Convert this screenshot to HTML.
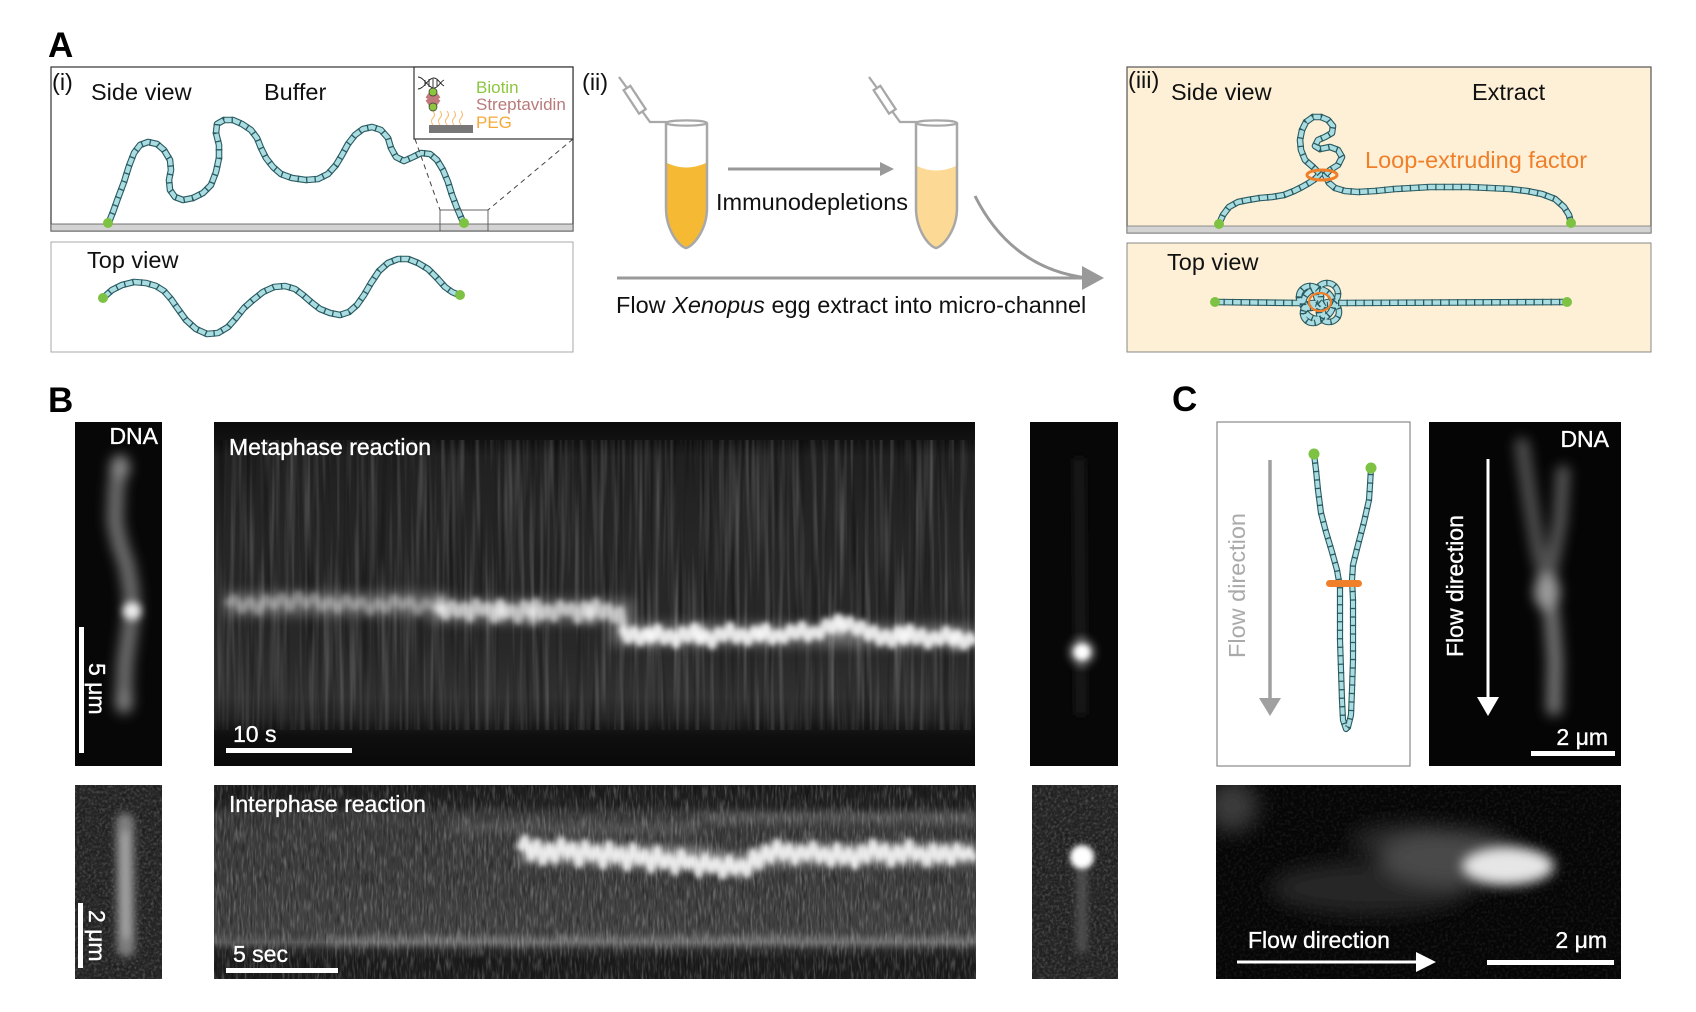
<!DOCTYPE html>
<html><head><meta charset="utf-8">
<style>
html,body{margin:0;padding:0;background:#fff;}
svg{display:block;}
.t{font-family:"Liberation Sans",Arial,sans-serif;font-size:23.5px;fill:#111;}
.w{font-family:"Liberation Sans",Arial,sans-serif;font-size:23px;fill:#fff;stroke:#fff;stroke-width:0.35px;}
.lbl{font-family:"Liberation Sans",Arial,sans-serif;font-size:35px;font-weight:bold;fill:#000;}
.hA{fill:none;stroke:#2a5a61;stroke-width:6.6;stroke-linejoin:round;stroke-linecap:round;}
.hB{fill:none;stroke:#a9dde1;stroke-width:4.4;stroke-linejoin:round;stroke-linecap:round;}
.hC{fill:none;stroke:#2a5a61;stroke-width:6.6;stroke-dasharray:1.3 7.2;}
</style></head>
<body>
<svg width="1696" height="1012" viewBox="0 0 1696 1012" xmlns="http://www.w3.org/2000/svg">
<defs>
  <filter id="b1" filterUnits="userSpaceOnUse" x="0" y="0" width="1696" height="1012"><feGaussianBlur stdDeviation="1.8"/></filter>
  <filter id="b2" filterUnits="userSpaceOnUse" x="0" y="0" width="1696" height="1012"><feGaussianBlur stdDeviation="2.6"/></filter>
  <filter id="b4" filterUnits="userSpaceOnUse" x="0" y="0" width="1696" height="1012"><feGaussianBlur stdDeviation="4"/></filter>
  <filter id="b6" filterUnits="userSpaceOnUse" x="0" y="0" width="1696" height="1012"><feGaussianBlur stdDeviation="6"/></filter>
  <filter id="b10" filterUnits="userSpaceOnUse" x="0" y="0" width="1696" height="1012"><feGaussianBlur stdDeviation="10"/></filter>
  <filter id="sW" x="0" y="0" width="1" height="1">
    <feTurbulence type="fractalNoise" baseFrequency="0.2 0.007" numOctaves="2" seed="7"/>
    <feColorMatrix type="matrix" values="0 0 0 0 1  0 0 0 0 1  0 0 0 0 1  1.4 0 0 0 -0.62"/>
  </filter>
  <filter id="sK" x="0" y="0" width="1" height="1">
    <feTurbulence type="fractalNoise" baseFrequency="0.16 0.006" numOctaves="2" seed="11"/>
    <feColorMatrix type="matrix" values="0 0 0 0 0  0 0 0 0 0  0 0 0 0 0  -1.8 0 0 0 0.85"/>
  </filter>
  <filter id="gW" x="0" y="0" width="1" height="1">
    <feTurbulence type="fractalNoise" baseFrequency="0.45 0.07" numOctaves="2" seed="3"/>
    <feColorMatrix type="matrix" values="0 0 0 0 1  0 0 0 0 1  0 0 0 0 1  1.5 0 0 0 -0.68"/>
  </filter>
  <filter id="gK" x="0" y="0" width="1" height="1">
    <feTurbulence type="fractalNoise" baseFrequency="0.45 0.07" numOctaves="2" seed="5"/>
    <feColorMatrix type="matrix" values="0 0 0 0 0  0 0 0 0 0  0 0 0 0 0  -1.6 0 0 0 0.82"/>
  </filter>
  <filter id="iW" x="0" y="0" width="1" height="1">
    <feTurbulence type="fractalNoise" baseFrequency="0.35" numOctaves="2" seed="9"/>
    <feColorMatrix type="matrix" values="0 0 0 0 1  0 0 0 0 1  0 0 0 0 1  1.5 0 0 0 -0.66"/>
  </filter>
  <filter id="iK" x="0" y="0" width="1" height="1">
    <feTurbulence type="fractalNoise" baseFrequency="0.35" numOctaves="2" seed="13"/>
    <feColorMatrix type="matrix" values="0 0 0 0 0  0 0 0 0 0  0 0 0 0 0  -1.6 0 0 0 0.82"/>
  </filter>

  <linearGradient id="gMeta" x1="0" y1="0" x2="0" y2="1">
    <stop offset="0" stop-color="#0a0a0a"/>
    <stop offset="0.06" stop-color="#131313"/>
    <stop offset="0.1" stop-color="#202020"/>
    <stop offset="0.35" stop-color="#262626"/>
    <stop offset="0.65" stop-color="#282828"/>
    <stop offset="0.8" stop-color="#303030"/>
    <stop offset="0.86" stop-color="#242424"/>
    <stop offset="0.91" stop-color="#0f0f0f"/>
    <stop offset="1" stop-color="#090909"/>
  </linearGradient>
  <linearGradient id="gInter" x1="0" y1="0" x2="0" y2="1">
    <stop offset="0" stop-color="#1c1c1c"/>
    <stop offset="0.1" stop-color="#222"/>
    <stop offset="0.15" stop-color="#3a3a3a"/>
    <stop offset="0.5" stop-color="#3c3c3c"/>
    <stop offset="0.76" stop-color="#424242"/>
    <stop offset="0.81" stop-color="#585858"/>
    <stop offset="0.85" stop-color="#2c2c2c"/>
    <stop offset="0.9" stop-color="#1b1b1b"/>
    <stop offset="1" stop-color="#1d1d1d"/>
  </linearGradient>

  <clipPath id="c1"><rect x="75" y="422" width="87" height="344"/></clipPath>
  <clipPath id="c2"><rect x="214" y="422" width="761" height="344"/></clipPath>
  <clipPath id="c3"><rect x="1030" y="422" width="88" height="344"/></clipPath>
  <clipPath id="c4"><rect x="75" y="785" width="87" height="194"/></clipPath>
  <clipPath id="c5"><rect x="214" y="785" width="762" height="194"/></clipPath>
  <clipPath id="c6"><rect x="1032" y="785" width="86" height="194"/></clipPath>
  <clipPath id="c7"><rect x="1429" y="422" width="192" height="344"/></clipPath>
  <clipPath id="c8"><rect x="1216" y="785" width="405" height="194"/></clipPath>

  <path id="dnaSide" d="M109,222 L113,212 L118,198 L124,182 L129,166 L134,153 L140,145 L148,142 L157,144 L164,150 L170,160 L171,170 L169,180 L170,190 L175,197 L183,200 L193,198 L203,193 L211,185 L216,172 L219,158 L219,145 L216,133 L217,124 L224,120 L233,120 L242,124 L251,130 L257,138 L261,148 L266,158 L273,167 L281,174 L292,178 L306,180 L318,179 L328,174 L336,165 L342,155 L348,144 L355,135 L363,129 L372,127 L381,130 L388,138 L391,148 L396,157 L404,161 L413,157 L421,153 L430,154 L437,160 L443,170 L448,182 L452,195 L457,208 L463,222"/>
  <path id="dnaTop" d="M103,298 L112,290 L122,285 L134,282 L146,283 L156,286 L164,291 L171,299 L178,309 L186,320 L196,329 L207,334 L218,333 L228,327 L236,318 L244,308 L253,300 L263,292 L274,287 L285,286 L295,289 L303,295 L311,302 L320,309 L330,313 L340,315 L349,312 L357,305 L364,295 L371,283 L379,271 L388,263 L398,259 L408,259 L418,263 L428,269 L437,278 L445,287 L452,292 L459,295"/>
  <path id="dnaIII" d="M1219,224 L1223,215 L1229,207 L1238,202 L1248,200 L1260,198 L1272,197 L1284,195 L1294,191 L1302,187 L1309,183 L1315,179 L1320,174 L1313,167 L1305,160 L1301,150 L1300,140 L1302,130 L1306,122 L1313,117 L1321,117 L1328,120 L1333,126 L1332,133 L1325,137 L1318,140 L1315,146 L1320,149 L1330,147 L1338,150 L1342,157 L1338,165 L1330,170 L1325,175 L1329,183 L1335,188 L1345,191 L1358,192 L1375,191 L1395,189 L1413,188 L1430,187 L1450,187 L1468,187 L1490,188 L1510,189 L1527,191 L1542,194 L1555,199 L1564,207 L1569,215 L1571,223"/>
  <path id="dnaIIIt" d="M1215,302 L1300,303 M1338,303 L1567,302 M1318,304 m-15,0 a15,15 0 1,0 30,0 a15,15 0 1,0 -30,0 M1299,297 a11,11 0 1,0 22,0 a11,11 0 1,0 -22,0 M1316,294 a11,11 0 1,0 22,0 a11,11 0 1,0 -22,0 M1303,313 a10,10 0 1,0 20,0 a10,10 0 1,0 -20,0 M1319,312 a10,10 0 1,0 20,0 a10,10 0 1,0 -20,0"/>
  <path id="dnaC" d="M1314,454 L1316,470 L1318,490 L1321,513 L1326,532 L1332,552 L1337,570 L1340,587 L1340,610 L1340,640 L1341,670 L1342,700 L1343,720 L1346,729 L1348,727 L1351,715 L1352,690 L1353,660 L1353,630 L1353,600 L1352,580 L1353,565 L1358,545 L1364,522 L1369,500 L1370,485 L1371,468"/>
</defs>

<!-- ================= PANEL A ================= -->
<text class="lbl" x="48" y="57">A</text>

<!-- (i) side view -->
<rect x="51" y="67" width="522" height="164" fill="#fff" stroke="#333" stroke-width="1.2"/>
<rect x="51" y="224" width="522" height="7" fill="#d3d3d3" stroke="#555" stroke-width="0.8"/>
<text class="t" x="52" y="90">(i)</text>
<text class="t" x="91" y="100">Side view</text>
<text class="t" x="264" y="100">Buffer</text>
<use href="#dnaSide" class="hA"/><use href="#dnaSide" class="hB"/><use href="#dnaSide" class="hC"/>
<circle cx="108" cy="223" r="5" fill="#7dc242"/>
<circle cx="464" cy="223" r="5" fill="#7dc242"/>
<rect x="440" y="210" width="48" height="21" fill="none" stroke="#555" stroke-width="0.9"/>
<line x1="415" y1="139" x2="440" y2="210" stroke="#444" stroke-width="1" stroke-dasharray="5 4"/>
<line x1="573" y1="139" x2="488" y2="210" stroke="#444" stroke-width="1" stroke-dasharray="5 4"/>
<!-- inset -->
<rect x="414" y="67" width="159" height="72" fill="#fff" stroke="#333" stroke-width="1.2"/>
<g fill="none" stroke="#222" stroke-width="0.9">
  <path d="M418,77 C424,77 428,88 434,88 C438,88 440,82 444,80"/>
  <path d="M418,89 C424,89 428,78 434,78 C438,78 440,84 444,86"/>
  <line x1="425" y1="80" x2="425" y2="86"/><line x1="429" y1="79" x2="429" y2="87"/><line x1="433" y1="79" x2="433" y2="87"/><line x1="437" y1="80" x2="437" y2="86"/>
</g>
<g stroke="#f7b86a" stroke-width="1" fill="none">
  <path d="M433,125 q-3,-4 0,-7 q3,-3 0,-7"/>
  <path d="M440,125 q-3,-4 0,-7 q3,-3 0,-7"/>
  <path d="M447,125 q-3,-4 0,-7 q3,-3 0,-7"/>
  <path d="M454,125 q-3,-4 0,-7 q3,-3 0,-7"/>
  <path d="M461,125 q-3,-4 0,-7 q3,-3 0,-7"/>
</g>
<g fill="#c07a7c">
  <rect x="426" y="96" width="14" height="6" transform="rotate(35 433 99)"/>
  <rect x="426" y="96" width="14" height="6" transform="rotate(-35 433 99)"/>
</g>
<circle cx="433" cy="92" r="4" fill="#8cc63e" stroke="#333" stroke-width="0.7"/>
<circle cx="433" cy="107" r="4" fill="#8cc63e" stroke="#333" stroke-width="0.7"/>
<rect x="429" y="125" width="44" height="8" fill="#777"/>
<text x="476" y="93" font-family="'Liberation Sans',Arial,sans-serif" font-size="17" fill="#8cc63e">Biotin</text>
<text x="476" y="110" font-family="'Liberation Sans',Arial,sans-serif" font-size="17" fill="#b87a7b">Streptavidin</text>
<text x="476" y="128" font-family="'Liberation Sans',Arial,sans-serif" font-size="17" fill="#f6a93a">PEG</text>

<!-- (i) top view -->
<rect x="51" y="242" width="522" height="110" fill="#fff" stroke="#aaa" stroke-width="1"/>
<text class="t" x="87" y="268">Top view</text>
<use href="#dnaTop" class="hA"/><use href="#dnaTop" class="hB"/><use href="#dnaTop" class="hC"/>
<circle cx="103" cy="298" r="5" fill="#7dc242"/>
<circle cx="460" cy="295" r="5" fill="#7dc242"/>

<!-- (ii) -->
<text class="t" x="582" y="90">(ii)</text>
<g stroke="#a8a8a8" stroke-width="2.3" fill="none">
  <line x1="619" y1="77" x2="627" y2="88"/>
  <g transform="translate(627,88) rotate(56.7)"><rect x="0" y="-4" width="28" height="8"/></g>
  <polyline points="642,111 650,122 668,122"/>
  <line x1="869" y1="77" x2="877" y2="88"/>
  <g transform="translate(877,88) rotate(56.7)"><rect x="0" y="-4" width="28" height="8"/></g>
  <polyline points="892,111 900,122 918,122"/>
</g>
<path d="M667,163 Q686,172 706,163 L706,208 C706,228 694,245 686,247 C678,245 667,228 667,208 Z" fill="#f6b934"/>
<path d="M666,123 L666,208 C666,229 678,246 686,248 C694,246 707,229 707,208 L707,123" fill="none" stroke="#a8a8a8" stroke-width="2.5"/>
<ellipse cx="686.5" cy="123" rx="20.5" ry="2.6" fill="#fff" stroke="#a8a8a8" stroke-width="2.2"/>
<path d="M917,166 Q936,175 956,166 L956,208 C956,228 944,245 936,247 C928,245 917,228 917,208 Z" fill="#fcd995"/>
<path d="M916,123 L916,208 C916,229 928,246 936,248 C944,246 957,229 957,208 L957,123" fill="none" stroke="#a8a8a8" stroke-width="2.5"/>
<ellipse cx="936.5" cy="123" rx="20.5" ry="2.6" fill="#fff" stroke="#a8a8a8" stroke-width="2.2"/>
<line x1="728" y1="169" x2="882" y2="169" stroke="#999" stroke-width="3"/>
<polygon points="880,162 894,169 880,176" fill="#999"/>
<text class="t" x="716" y="210">Immunodepletions</text>
<path d="M975,196 C998,242 1035,272 1088,278" fill="none" stroke="#999" stroke-width="3"/>
<line x1="617" y1="278" x2="1088" y2="278" stroke="#999" stroke-width="3"/>
<polygon points="1082,266 1104,278 1082,290" fill="#999"/>
<text class="t" x="616" y="313">Flow <tspan font-style="italic">Xenopus</tspan> egg extract into micro-channel</text>

<!-- (iii) -->
<rect x="1127" y="67" width="524" height="166" fill="#fdf0d6" stroke="#555" stroke-width="1.2"/>
<rect x="1127" y="226" width="524" height="7" fill="#d3d3d3" stroke="#777" stroke-width="0.8"/>
<text class="t" x="1128" y="88">(iii)</text>
<text class="t" x="1171" y="100">Side view</text>
<text class="t" x="1472" y="100">Extract</text>
<use href="#dnaIII" class="hA"/><use href="#dnaIII" class="hB"/><use href="#dnaIII" class="hC"/>
<ellipse cx="1322" cy="175" rx="15" ry="5" fill="none" stroke="#f07f2a" stroke-width="3"/>
<text class="t" x="1365" y="168" style="fill:#f07f2a">Loop-extruding factor</text>
<circle cx="1219" cy="224" r="5" fill="#7dc242"/>
<circle cx="1571" cy="223" r="5" fill="#7dc242"/>

<rect x="1127" y="243" width="524" height="109" fill="#fdf0d6" stroke="#888" stroke-width="1"/>
<text class="t" x="1167" y="270">Top view</text>
<use href="#dnaIIIt" class="hA"/><use href="#dnaIIIt" class="hB"/><use href="#dnaIIIt" class="hC"/>
<ellipse cx="1320" cy="302" rx="11" ry="9" fill="none" stroke="#f07f2a" stroke-width="2.2"/>
<circle cx="1215" cy="302" r="5" fill="#7dc242"/>
<circle cx="1567" cy="302" r="5" fill="#7dc242"/>

<!-- ================= PANEL B ================= -->
<text class="lbl" x="48" y="412">B</text>

<!-- top-left DNA -->
<g clip-path="url(#c1)">
  <rect x="75" y="422" width="87" height="344" fill="#070707"/>
  <g filter="url(#b6)">
    <path d="M120,462 L116,490 L115,522 L120,545 L127,566 L131,590 L132,611 L129,635 L125,663 L124,690 L124,706" fill="none" stroke="#6e6e6e" stroke-width="16" stroke-linecap="round"/>
    <circle cx="120" cy="468" r="10" fill="#8a8a8a"/>
    <circle cx="124" cy="700" r="9" fill="#808080"/>
  </g>
  <g filter="url(#b4)"><circle cx="132" cy="611" r="9" fill="#eee"/></g>
  <rect x="79" y="627" width="5" height="126" fill="#fff"/>
</g>
<text class="w" x="158" y="444" text-anchor="end">DNA</text>
<text class="w" transform="translate(89,663) rotate(90)">5 μm</text>

<!-- metaphase kymo -->
<g clip-path="url(#c2)">
  <rect x="214" y="422" width="761" height="344" fill="url(#gMeta)"/>
  <rect x="214" y="440" width="761" height="290" filter="url(#sW)" opacity="0.32"/>
  <rect x="214" y="440" width="761" height="290" filter="url(#sK)" opacity="0.55"/>
  <g filter="url(#b6)" opacity="0.3" fill="none" stroke="#fff" stroke-width="22">
    <path d="M226,604 L440,604 L440,611 L622,611 L622,634 L975,636"/>
  </g>
  <g filter="url(#b2)" fill="none" stroke="#fff" stroke-linejoin="round">
    <path opacity="0.3" stroke-width="8" d="M226,605 L234,598 L242,610 L250,600 L258,612 L266,598 L274,606 L282,596 L290,608 L298,594 L306,605 L314,596 L322,608 L330,600 L338,610 L346,598 L354,607 L362,600 L370,612 L378,602 L386,610 L394,598 L402,606 L410,600 L418,612 L426,602 L434,608 L440,606"/>
    <path opacity="0.6" stroke-width="9" d="M440,606 L446,616 L452,604 L458,614 L464,606 L470,618 L476,602 L482,612 L488,606 L494,619 L500,603 L506,614 L512,608 L518,620 L524,604 L530,612 L536,602 L542,616 L548,608 L554,618 L560,604 L566,612 L572,606 L578,620 L584,605 L590,614 L596,602 L602,616 L608,607 L614,619 L620,610 L624,630"/>
    <path opacity="0.85" stroke-width="9" d="M622,628 L628,640 L634,630 L640,642 L646,632 L652,638 L658,628 L664,641 L670,633 L676,644 L682,630 L688,639 L694,627 L700,640 L706,634 L712,645 L718,631 L724,638 L730,626 L736,640 L742,632 L748,642 L754,630 L760,637 L766,627 L772,641 L778,633 L784,640 L790,628 L796,636 L802,625 L808,638 L814,630 L820,636 L826,622 L832,630 L838,618 L844,628 L850,620 L856,632 L862,624 L868,637 L874,629 L880,642 L886,633 L892,644 L898,630 L904,640 L910,628 L916,641 L922,632 L928,645 L934,635 L940,642 L946,630 L952,641 L958,634 L964,646 L970,636 L975,644"/>
  </g>
  <g filter="url(#b4)" fill="#fff" opacity="0.7">
    <ellipse cx="441" cy="606" rx="5" ry="10"/><ellipse cx="501" cy="612" rx="5" ry="10"/><ellipse cx="533" cy="616" rx="6" ry="9"/><ellipse cx="590" cy="614" rx="5" ry="10"/>
    <ellipse cx="650" cy="636" rx="6" ry="9"/><ellipse cx="700" cy="634" rx="6" ry="10"/><ellipse cx="760" cy="634" rx="5" ry="9"/><ellipse cx="840" cy="626" rx="6" ry="10"/><ellipse cx="905" cy="636" rx="6" ry="9"/><ellipse cx="955" cy="640" rx="5" ry="10"/>
  </g>
  <rect x="226" y="748" width="126" height="5" fill="#fff"/>
</g>
<text class="w" x="229" y="455">Metaphase reaction</text>
<text class="w" x="233" y="742">10 s</text>

<!-- top-right -->
<g clip-path="url(#c3)">
  <rect x="1030" y="422" width="88" height="344" fill="#070707"/>
  <g filter="url(#b4)">
    <line x1="1079" y1="458" x2="1081" y2="715" stroke="#1f1f1f" stroke-width="10"/>
    <circle cx="1082" cy="652" r="13" fill="#777"/>
  </g>
  <g filter="url(#b2)"><circle cx="1082" cy="652" r="8" fill="#fff"/></g>
</g>

<!-- bottom-left -->
<g clip-path="url(#c4)">
  <rect x="75" y="785" width="87" height="194" fill="#262626"/>
  <rect x="75" y="785" width="87" height="194" filter="url(#iW)" opacity="0.3"/>
  <rect x="75" y="785" width="87" height="194" filter="url(#iK)" opacity="0.55"/>
  <g filter="url(#b4)">
    <line x1="125" y1="822" x2="126" y2="948" stroke="#7e7e7e" stroke-width="18" stroke-linecap="round"/>
    <line x1="125" y1="832" x2="126" y2="938" stroke="#a8a8a8" stroke-width="7"/>
  </g>
  <rect x="78" y="903" width="5" height="65" fill="#fff"/>
</g>
<text class="w" transform="translate(89,910) rotate(90)">2 μm</text>

<!-- interphase kymo -->
<g clip-path="url(#c5)">
  <rect x="214" y="785" width="762" height="194" fill="url(#gInter)"/>
  <rect x="214" y="785" width="762" height="194" filter="url(#gW)" opacity="0.38"/>
  <rect x="214" y="785" width="762" height="194" filter="url(#gK)" opacity="0.55"/>
  <g filter="url(#b4)" fill="none" stroke="#fff">
    <path opacity="0.15" stroke-width="10" d="M700,818 L976,818"/>
    <path opacity="0.1" stroke-width="14" d="M450,828 L700,828"/>
    <path opacity="0.16" stroke-width="10" d="M330,941 L976,941"/>
    <path opacity="0.3" stroke-width="24" d="M519,852 L700,858 L740,866 L770,855 L976,854"/>
  </g>
  <g filter="url(#b2)" fill="none" stroke="#fff" stroke-width="8" stroke-linejoin="round" opacity="0.85">
    <path d="M519,850 L525,838 L531,858 L537,842 L543,862 L549,846 L555,860 L561,840 L567,856 L573,845 L579,864 L585,843 L591,858 L597,848 L603,866 L609,844 L615,860 L621,850 L627,868 L633,846 L639,862 L645,852 L651,870 L657,849 L663,866 L669,856 L675,872 L681,852 L687,866 L693,858 L699,874 L705,856 L711,870 L717,860 L723,876 L729,858 L735,872 L741,862 L747,874 L753,852 L759,866 L765,848 L771,860 L777,842 L783,858 L789,846 L795,862 L801,848 L807,858 L813,844 L819,860 L825,850 L831,864 L837,846 L843,862 L849,850 L855,866 L861,848 L867,860 L873,842 L879,858 L885,846 L891,864 L897,848 L903,860 L909,842 L915,858 L921,850 L927,864 L933,846 L939,860 L945,848 L951,862 L957,846 L963,858 L969,850 L975,860"/>
  </g>
  <rect x="226" y="968" width="112" height="5" fill="#fff"/>
</g>
<text class="w" x="229" y="812">Interphase reaction</text>
<text class="w" x="233" y="962">5 sec</text>

<!-- bottom-right -->
<g clip-path="url(#c6)">
  <rect x="1032" y="785" width="86" height="194" fill="#262626"/>
  <rect x="1032" y="785" width="86" height="194" filter="url(#iW)" opacity="0.3"/>
  <rect x="1032" y="785" width="86" height="194" filter="url(#iK)" opacity="0.55"/>
  <g filter="url(#b4)">
    <line x1="1082" y1="866" x2="1082" y2="952" stroke="#555" stroke-width="9"/>
  </g>
  <g filter="url(#b2)">
    <circle cx="1082" cy="857" r="12" fill="#fff"/>
  </g>
</g>

<!-- ================= PANEL C ================= -->
<text class="lbl" x="1172" y="411">C</text>

<rect x="1217" y="422" width="193" height="344" fill="#fff" stroke="#888" stroke-width="1.2"/>
<text class="t" transform="translate(1245,658) rotate(-90)" style="fill:#aaa">Flow direction</text>
<line x1="1270" y1="460" x2="1270" y2="700" stroke="#a0a0a0" stroke-width="3.5"/>
<polygon points="1259,698 1281,698 1270,716" fill="#a0a0a0"/>
<use href="#dnaC" class="hA" style="stroke-width:6.2"/><use href="#dnaC" class="hB" style="stroke-width:4"/><use href="#dnaC" class="hC" style="stroke-width:6.2"/>
<rect x="1326" y="580" width="36" height="7" rx="3.5" fill="#f07f2a"/>
<circle cx="1314" cy="454" r="5.5" fill="#7dc242"/>
<circle cx="1371" cy="468" r="5.5" fill="#7dc242"/>

<!-- C DNA image -->
<g clip-path="url(#c7)">
  <rect x="1429" y="422" width="192" height="344" fill="#050505"/>
  <g filter="url(#b6)" fill="none" stroke-linecap="round">
    <path d="M1522,445 L1530,500 L1538,550 L1547,587" stroke="#4e4e4e" stroke-width="15"/>
    <path d="M1563,472 L1560,520 L1553,560 L1547,587" stroke="#555" stroke-width="14"/>
    <path d="M1547,587 L1552,620 L1555,660 L1554,708" stroke="#6e6e6e" stroke-width="16"/>
    <ellipse cx="1547" cy="592" rx="13" ry="18" fill="#9a9a9a" stroke="none"/>
  </g>
  <rect x="1531" y="751" width="84" height="5" fill="#fff"/>
</g>
<text class="w" x="1609" y="447" text-anchor="end">DNA</text>
<line x1="1488" y1="459" x2="1488" y2="700" stroke="#fff" stroke-width="3"/>
<polygon points="1477,697 1499,697 1488,716" fill="#fff"/>
<text class="w" transform="translate(1463,657) rotate(-90)">Flow direction</text>
<text class="w" x="1608" y="745" text-anchor="end">2 μm</text>

<!-- C bottom image -->
<g clip-path="url(#c8)">
  <rect x="1216" y="785" width="405" height="194" fill="#060606"/>
  <rect x="1216" y="785" width="405" height="194" filter="url(#iW)" opacity="0.12"/>
  <g filter="url(#b10)">
    <ellipse cx="1232" cy="806" rx="26" ry="26" fill="#3a3a3a"/>
    <ellipse cx="1370" cy="888" rx="100" ry="26" fill="#282828"/>
    <ellipse cx="1405" cy="840" rx="55" ry="16" fill="#2a2a2a"/>
    <ellipse cx="1450" cy="858" rx="70" ry="28" fill="#484848"/>
  </g>
  <g filter="url(#b6)">
    <ellipse cx="1508" cy="866" rx="46" ry="19" fill="#e6e6e6"/>
  </g>
  <rect x="1487" y="960" width="127" height="5" fill="#fff"/>
</g>
<text class="w" x="1248" y="948">Flow direction</text>
<line x1="1237" y1="962" x2="1420" y2="962" stroke="#fff" stroke-width="3"/>
<polygon points="1416,952 1436,962 1416,972" fill="#fff"/>
<text class="w" x="1607" y="948" text-anchor="end">2 μm</text>

</svg>
</body></html>
